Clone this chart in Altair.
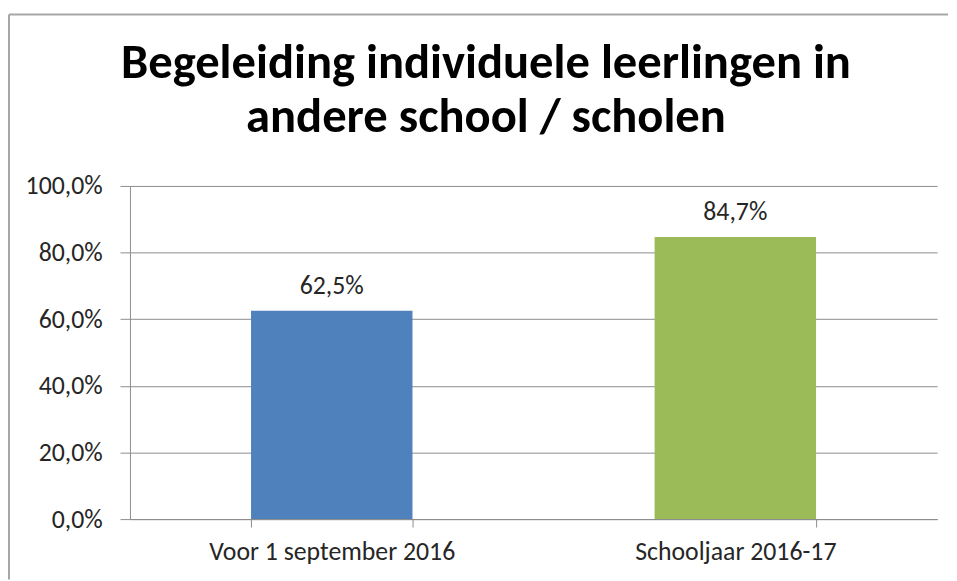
import altair as alt
import pandas as pd

categories = ["Voor 1 september 2016", "Schooljaar 2016-17"]
values = [0.625, 0.847]
labels = ["62,5%", "84,7%"]
colors = ["#4F81BD", "#9BBB59"]
title_lines = ["Begeleiding individuele leerlingen in", "andere school / scholen"]

df = pd.DataFrame({"cat": categories, "val": values, "lab": labels, "col": colors})

FONT = "Carlito, Lato, sans-serif"
TXT = "#262626"
W, H = 814, 336

base = alt.Chart(df)

bars = base.mark_bar().encode(
    x=alt.X("cat:N", sort=categories, title=None,
            scale=alt.Scale(paddingInner=0.6, paddingOuter=0.3),
            axis=alt.Axis(labelAngle=0, tickBand="extent", tickSize=8, tickColor="#8c8c8c",
                          domainColor="#8c8c8c", labelPadding=12, labelFontSize=26,
                          labelFont=FONT, labelColor=TXT, labelLimit=600, grid=False)),
    y=alt.Y("val:Q", title=None,
            scale=alt.Scale(domain=[0, 1], nice=False),
            axis=alt.Axis(values=[0, 0.2, 0.4, 0.6, 0.8, 1.0], tickSize=10, tickColor="#8c8c8c",
                          domainColor="#8c8c8c", gridColor="#8c8c8c", labelPadding=18,
                          labelFontSize=26, labelFont=FONT, labelColor=TXT,
                          labelExpr="replace(format(datum.value, '.1%'), '.', ',')")),
    color=alt.Color("col:N", scale=None, legend=None),
)

text = base.mark_text(dy=-17, baseline="alphabetic", fontSize=26, font=FONT, color=TXT).encode(
    x=alt.X("cat:N", sort=categories),
    y=alt.Y("val:Q"),
    text="lab:N",
)

border_data = alt.Data(values=[{"a": 1}])
top_border = alt.Chart(border_data).mark_rule(color="#a6a6a6", strokeWidth=2).encode(
    x=alt.value(-122), x2=alt.value(825), y=alt.value(-173))
left_border = alt.Chart(border_data).mark_rule(color="#a6a6a6", strokeWidth=2).encode(
    x=alt.value(-122), y=alt.value(-173), y2=alt.value(397))

chart = alt.layer(bars, text, top_border, left_border).properties(
    width=W, height=H,
    padding={"left": 0, "top": 3, "right": 0, "bottom": 0},
    title=alt.TitleParams(title_lines, font=FONT, fontSize=49, fontWeight="bold",
                          color="#000000", anchor="middle", dx=-48, lineHeight=55, offset=-130),
).configure_view(stroke=None)

chart.save("out.html", embed_options={"renderer": "svg", "actions": False})
